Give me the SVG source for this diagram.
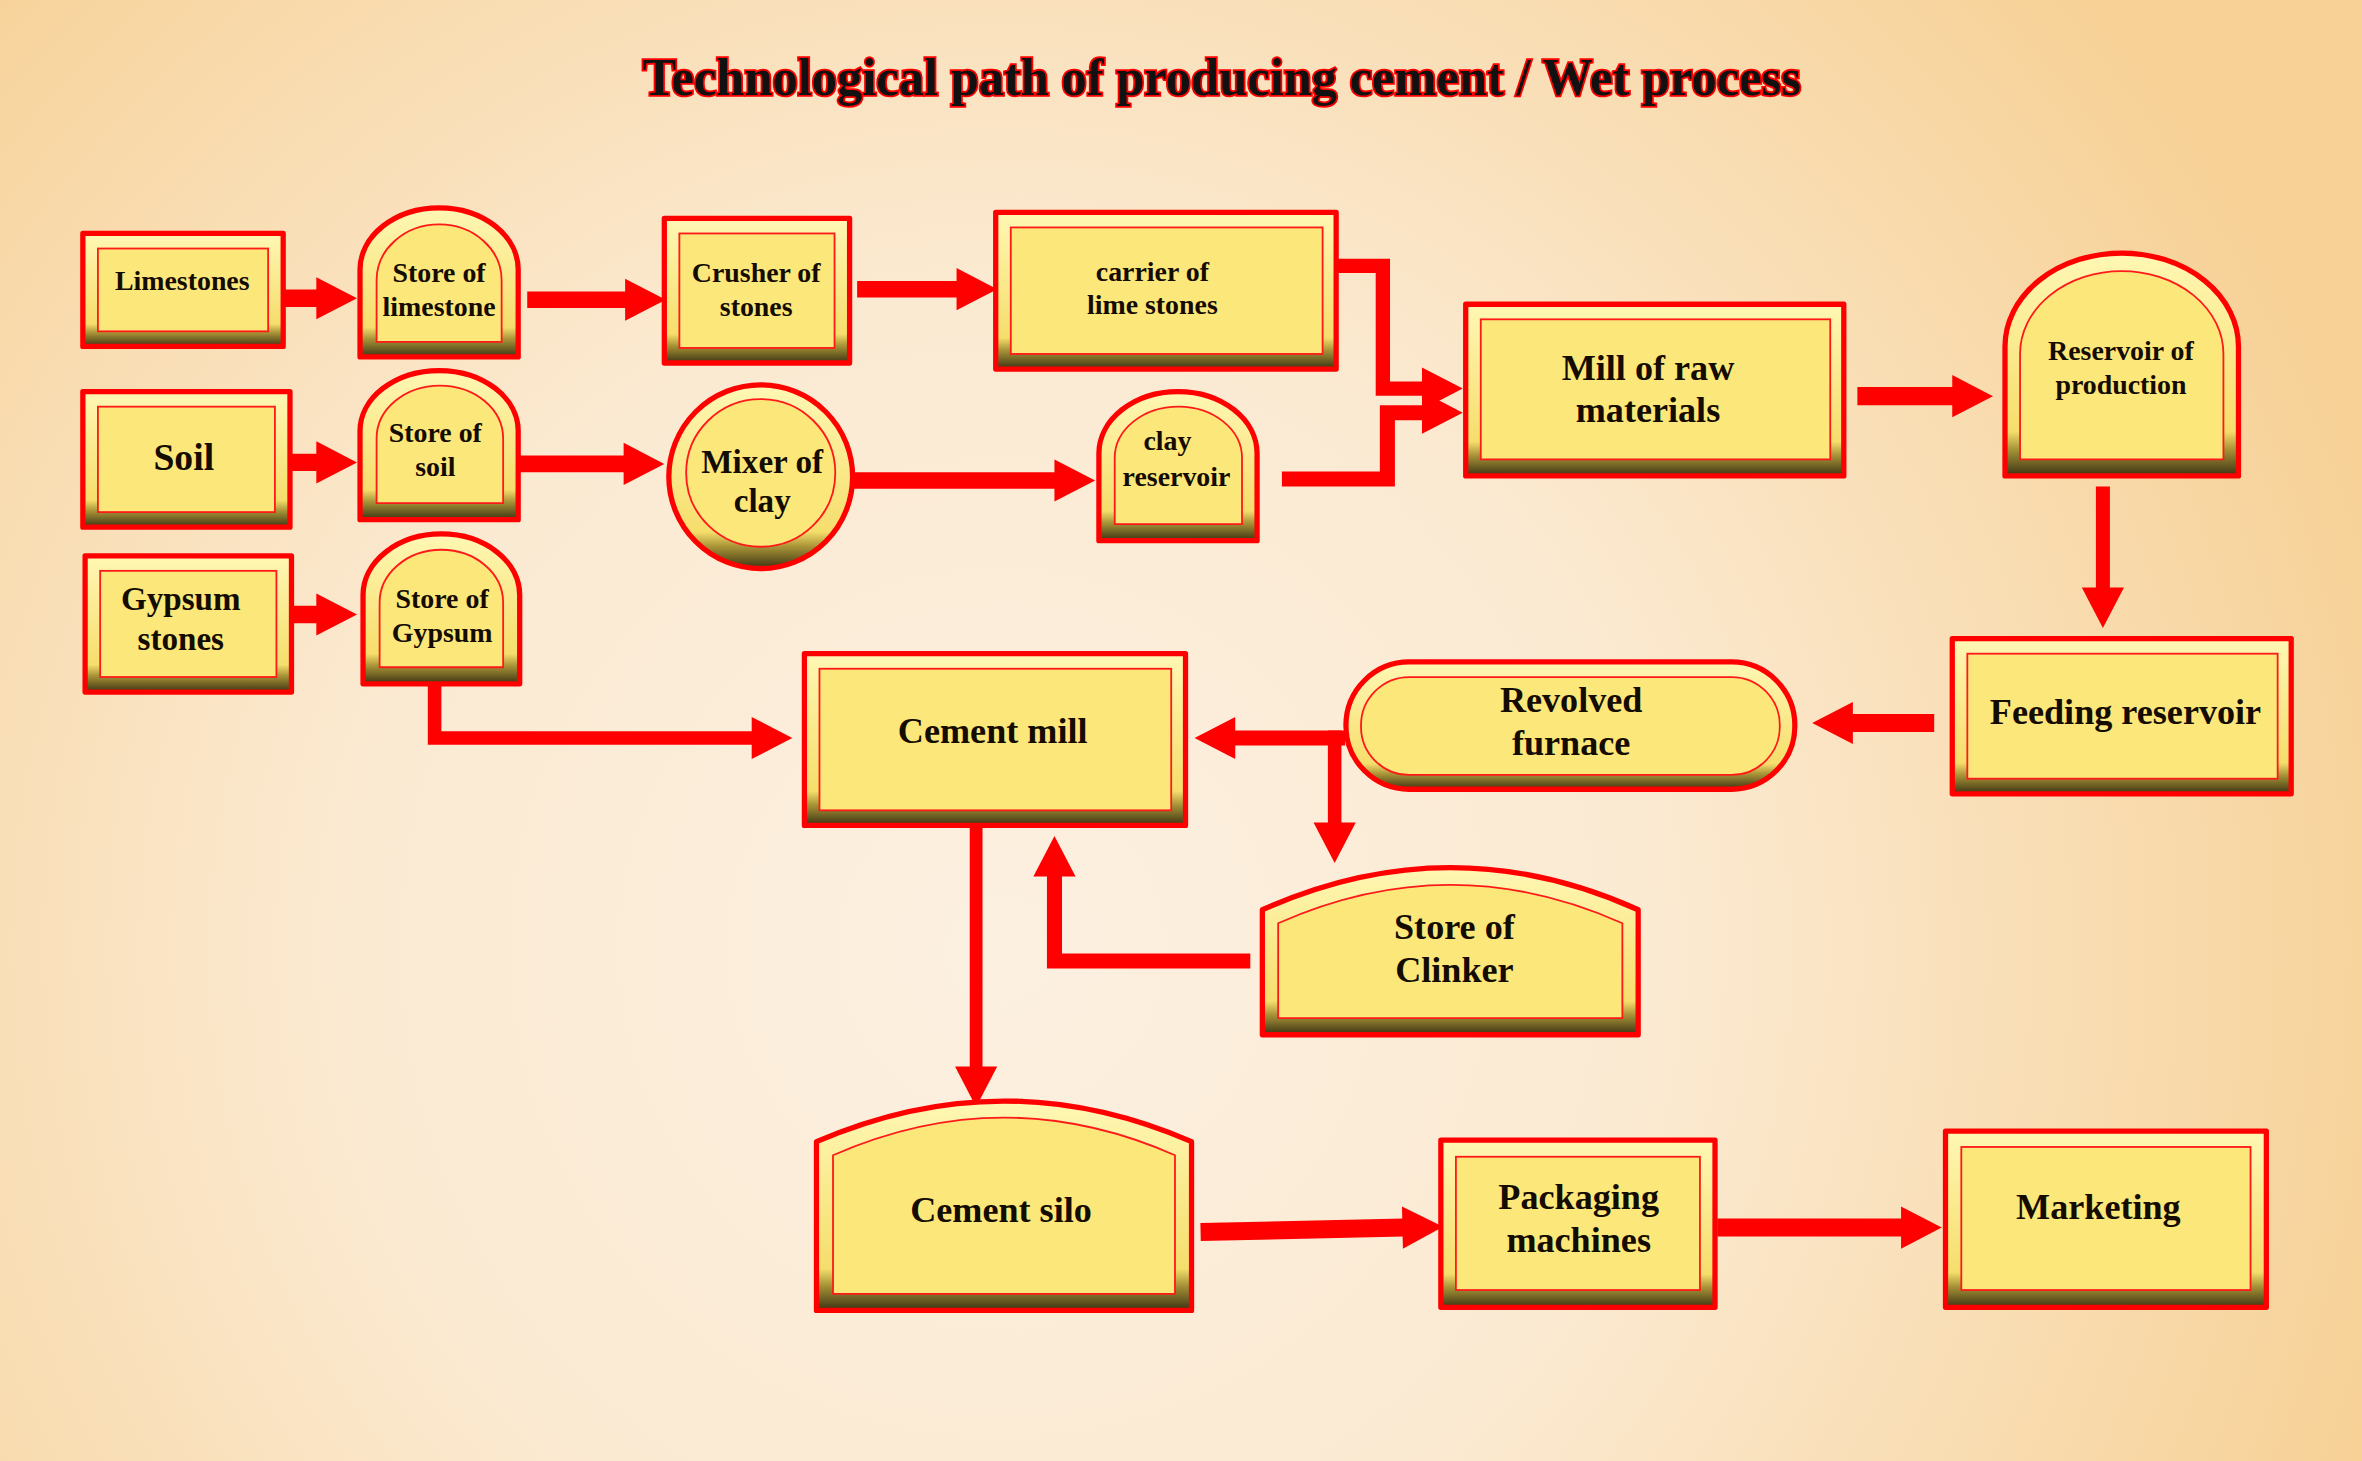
<svg xmlns="http://www.w3.org/2000/svg" width="2362" height="1461" viewBox="0 0 2362 1461">
<defs>
<radialGradient id="bg" gradientUnits="userSpaceOnUse" cx="1000" cy="950" r="1450">
<stop offset="0" stop-color="#FCF0E1"/>
<stop offset="0.45" stop-color="#FBEAD2"/>
<stop offset="1" stop-color="#F7D196"/>
</radialGradient>
<linearGradient id="bev" x1="0" y1="0" x2="0" y2="1">
<stop offset="0" stop-color="#FFF7B4"/>
<stop offset="0.8" stop-color="#F6DE6C"/>
<stop offset="0.88" stop-color="#A89437"/>
<stop offset="1" stop-color="#3C3313"/>
</linearGradient>
<marker id="ah" markerUnits="userSpaceOnUse" viewBox="0 0 27 28" markerWidth="27" markerHeight="28" refX="1" refY="14" orient="auto" overflow="visible">
<path d="M0,0 L27,14 L0,28 Z" fill="#FF0000"/>
</marker>
<style>
.o{fill:url(#bev);stroke:#FF0000;stroke-width:3.5;stroke-linejoin:round}
.i{fill:#FCE77A;stroke:#FF1A1A;stroke-width:1.2}
.t{font-family:"Liberation Serif","Times New Roman",serif;font-weight:bold;fill:#140C00;text-anchor:middle}
.s{font-size:18.5px}
.m{font-size:22px}
.l{font-size:24px}
.c{fill:none;stroke:#FF0000;stroke-linejoin:miter;stroke-linecap:butt;marker-end:url(#ah)}
.title{font-family:"Liberation Serif","Times New Roman",serif;font-weight:bold;font-size:35px;fill:#111;stroke:#FF0000;stroke-width:2.4;paint-order:stroke;text-anchor:middle}
</style>
</defs>
<rect x="0" y="0" width="2362" height="1461" fill="url(#bg)"/>
<g transform="scale(1.50638,1.50619)">
<text class="title" x="811" y="63" textLength="769" lengthAdjust="spacingAndGlyphs">Technological path of producing cement / Wet process</text>

<g id="connectors">
<path class="c" stroke-width="11.5" d="M189,198 H211"/>
<path class="c" stroke-width="11" d="M350,199 H416"/>
<path class="c" stroke-width="11" d="M569,192 H636"/>
<path class="c" stroke-width="9.5" d="M887,176.5 H918 V258 H945"/>
<path class="c" stroke-width="10" d="M851,318 H921 V274 H945"/>
<path class="c" stroke-width="12" d="M1233,263 H1297"/>
<path class="c" stroke-width="9.3" d="M1396,323 V391"/>
<path class="c" stroke-width="12" d="M1284,480 H1229"/>
<path class="c" stroke-width="10" d="M893,490 H819"/>
<path class="c" stroke-width="9" d="M886,485 V547"/>
<path class="c" stroke-width="10" d="M830,638 H700 V581"/>
<path class="c" stroke-width="9" d="M288.5,452 V490 H500"/>
<path class="c" stroke-width="8.5" d="M648,549 V709"/>
<path class="c" stroke-width="12" d="M797,818 L932,815"/>
<path class="c" stroke-width="12" d="M1140,815 H1263"/>
<path class="c" stroke-width="11.5" d="M189.5,307 H211"/>
<path class="c" stroke-width="11" d="M338,308 H415"/>
<path class="c" stroke-width="11" d="M566,319 H701"/>
<path class="c" stroke-width="11.5" d="M189.5,408 H211"/>
</g>

<g id="n-limestones">
<rect class="o" x="55" y="155" width="133" height="75"/>
<rect class="i" x="65" y="165" width="113" height="55"/>
<text class="t s" x="121" y="192.5">Limestones</text>
</g>
<g id="n-store-limestone">
<path class="o" d="M239,237 V179 A52.5,41 0 0 1 344,179 V237 Z"/>
<path class="i" d="M250,227 V186 A41.5,37 0 0 1 333,186 V227 Z"/>
<text class="t s" x="291.5" y="187">Store of</text>
<text class="t s" x="291.5" y="209.5">limestone</text>
</g>
<g id="n-crusher">
<rect class="o" x="441" y="145" width="123" height="96"/>
<rect class="i" x="451" y="155" width="103" height="76"/>
<text class="t s" x="502" y="187">Crusher of</text>
<text class="t s" x="502" y="209.5">stones</text>
</g>
<g id="n-carrier">
<rect class="o" x="661" y="141" width="226" height="104"/>
<rect class="i" x="671" y="151" width="207" height="84"/>
<text class="t s" x="765" y="186.5">carrier of</text>
<text class="t s" x="765" y="208.5">lime stones</text>
</g>
<g id="n-mill-raw">
<rect class="o" x="973" y="202" width="251" height="114"/>
<rect class="i" x="983" y="212" width="232" height="93"/>
<text class="t l" x="1094" y="252">Mill of raw</text>
<text class="t l" x="1094" y="280.5">materials</text>
</g>
<g id="n-reservoir-production">
<path class="o" d="M1331,316 V230 A77.5,62 0 0 1 1486,230 V316 Z"/>
<path class="i" d="M1341,305 V235 A67.5,55 0 0 1 1476,235 V305 Z"/>
<text class="t s" x="1408" y="239">Reservoir of</text>
<text class="t s" x="1408" y="261.5">production</text>
</g>
<g id="n-soil">
<rect class="o" x="55" y="260" width="137.5" height="90"/>
<rect class="i" x="65" y="270" width="117.5" height="70"/>
<text class="t" style="font-size:25px" x="122" y="312">Soil</text>
</g>
<g id="n-store-soil">
<path class="o" d="M239,345 V286 A52.5,40 0 0 1 344,286 V345 Z"/>
<path class="i" d="M250,334 V291 A42,35 0 0 1 334,291 V334 Z"/>
<text class="t s" x="289" y="293.5">Store of</text>
<text class="t s" x="289" y="316">soil</text>
</g>
<g id="n-mixer">
<ellipse class="o" cx="505" cy="316.5" rx="61" ry="61"/>
<ellipse class="i" cx="505" cy="314" rx="49.5" ry="49"/>
<text class="t m" x="506" y="314">Mixer of</text>
<text class="t m" x="506" y="340">clay</text>
</g>
<g id="n-clay-reservoir">
<path class="o" d="M729.5,359 V301 A52.5,41 0 0 1 834.5,301 V359 Z"/>
<path class="i" d="M740,348 V304 A42.25,34 0 0 1 824.5,304 V348 Z"/>
<text class="t s" x="775" y="299">clay</text>
<text class="t s" x="781" y="322.5">reservoir</text>
</g>
<g id="n-gypsum">
<rect class="o" x="56.5" y="369" width="137" height="90.5"/>
<rect class="i" x="66.5" y="379" width="117" height="70.5"/>
<text class="t m" x="120" y="405">Gypsum</text>
<text class="t m" x="120" y="431.5">stones</text>
</g>
<g id="n-store-gypsum">
<path class="o" d="M241,454 V395 A52,40.5 0 0 1 345,395 V454 Z"/>
<path class="i" d="M252,443 V400 A41,35 0 0 1 334,400 V443 Z"/>
<text class="t s" x="293.5" y="403.5">Store of</text>
<text class="t s" x="293.5" y="426">Gypsum</text>
</g>
<g id="n-cement-mill">
<rect class="o" x="534" y="434" width="253" height="114"/>
<rect class="i" x="544" y="444" width="233.5" height="94"/>
<text class="t l" x="659" y="493">Cement mill</text>
</g>
<g id="n-revolved-furnace">
<rect class="o" x="893.5" y="439.5" width="298" height="84.5" rx="42" ry="42"/>
<rect class="i" x="903.5" y="449.5" width="278" height="65" rx="32" ry="32"/>
<text class="t l" x="1043" y="472.5">Revolved</text>
<text class="t l" x="1043" y="501">furnace</text>
</g>
<g id="n-feeding-reservoir">
<rect class="o" x="1296" y="424" width="225" height="103"/>
<rect class="i" x="1306" y="434" width="206" height="83"/>
<text class="t l" x="1411" y="481">Feeding reservoir</text>
</g>
<g id="n-store-clinker">
<path class="o" d="M838,687 V604 Q963,548 1087.5,604 V687 Z"/>
<path class="i" d="M848.5,676 V613 Q963,562 1077,613 V676 Z"/>
<text class="t l" x="965.5" y="623.5">Store of</text>
<text class="t l" x="965.5" y="652">Clinker</text>
</g>
<g id="n-cement-silo">
<path class="o" d="M542,870 V758 Q666.5,704 791,758 V870 Z"/>
<path class="i" d="M553,859 V767 Q666.5,717 780,767 V859 Z"/>
<text class="t l" x="664.5" y="811">Cement silo</text>
</g>
<g id="n-packaging">
<rect class="o" x="956.5" y="757" width="182" height="111"/>
<rect class="i" x="966.5" y="768" width="162" height="88.5"/>
<text class="t l" x="1048" y="802.5">Packaging</text>
<text class="t l" x="1048" y="831.5">machines</text>
</g>
<g id="n-marketing">
<rect class="o" x="1291.5" y="751" width="213" height="117"/>
<rect class="i" x="1302" y="761.5" width="192" height="95"/>
<text class="t l" x="1393" y="809">Marketing</text>
</g>
</g>
</svg>
